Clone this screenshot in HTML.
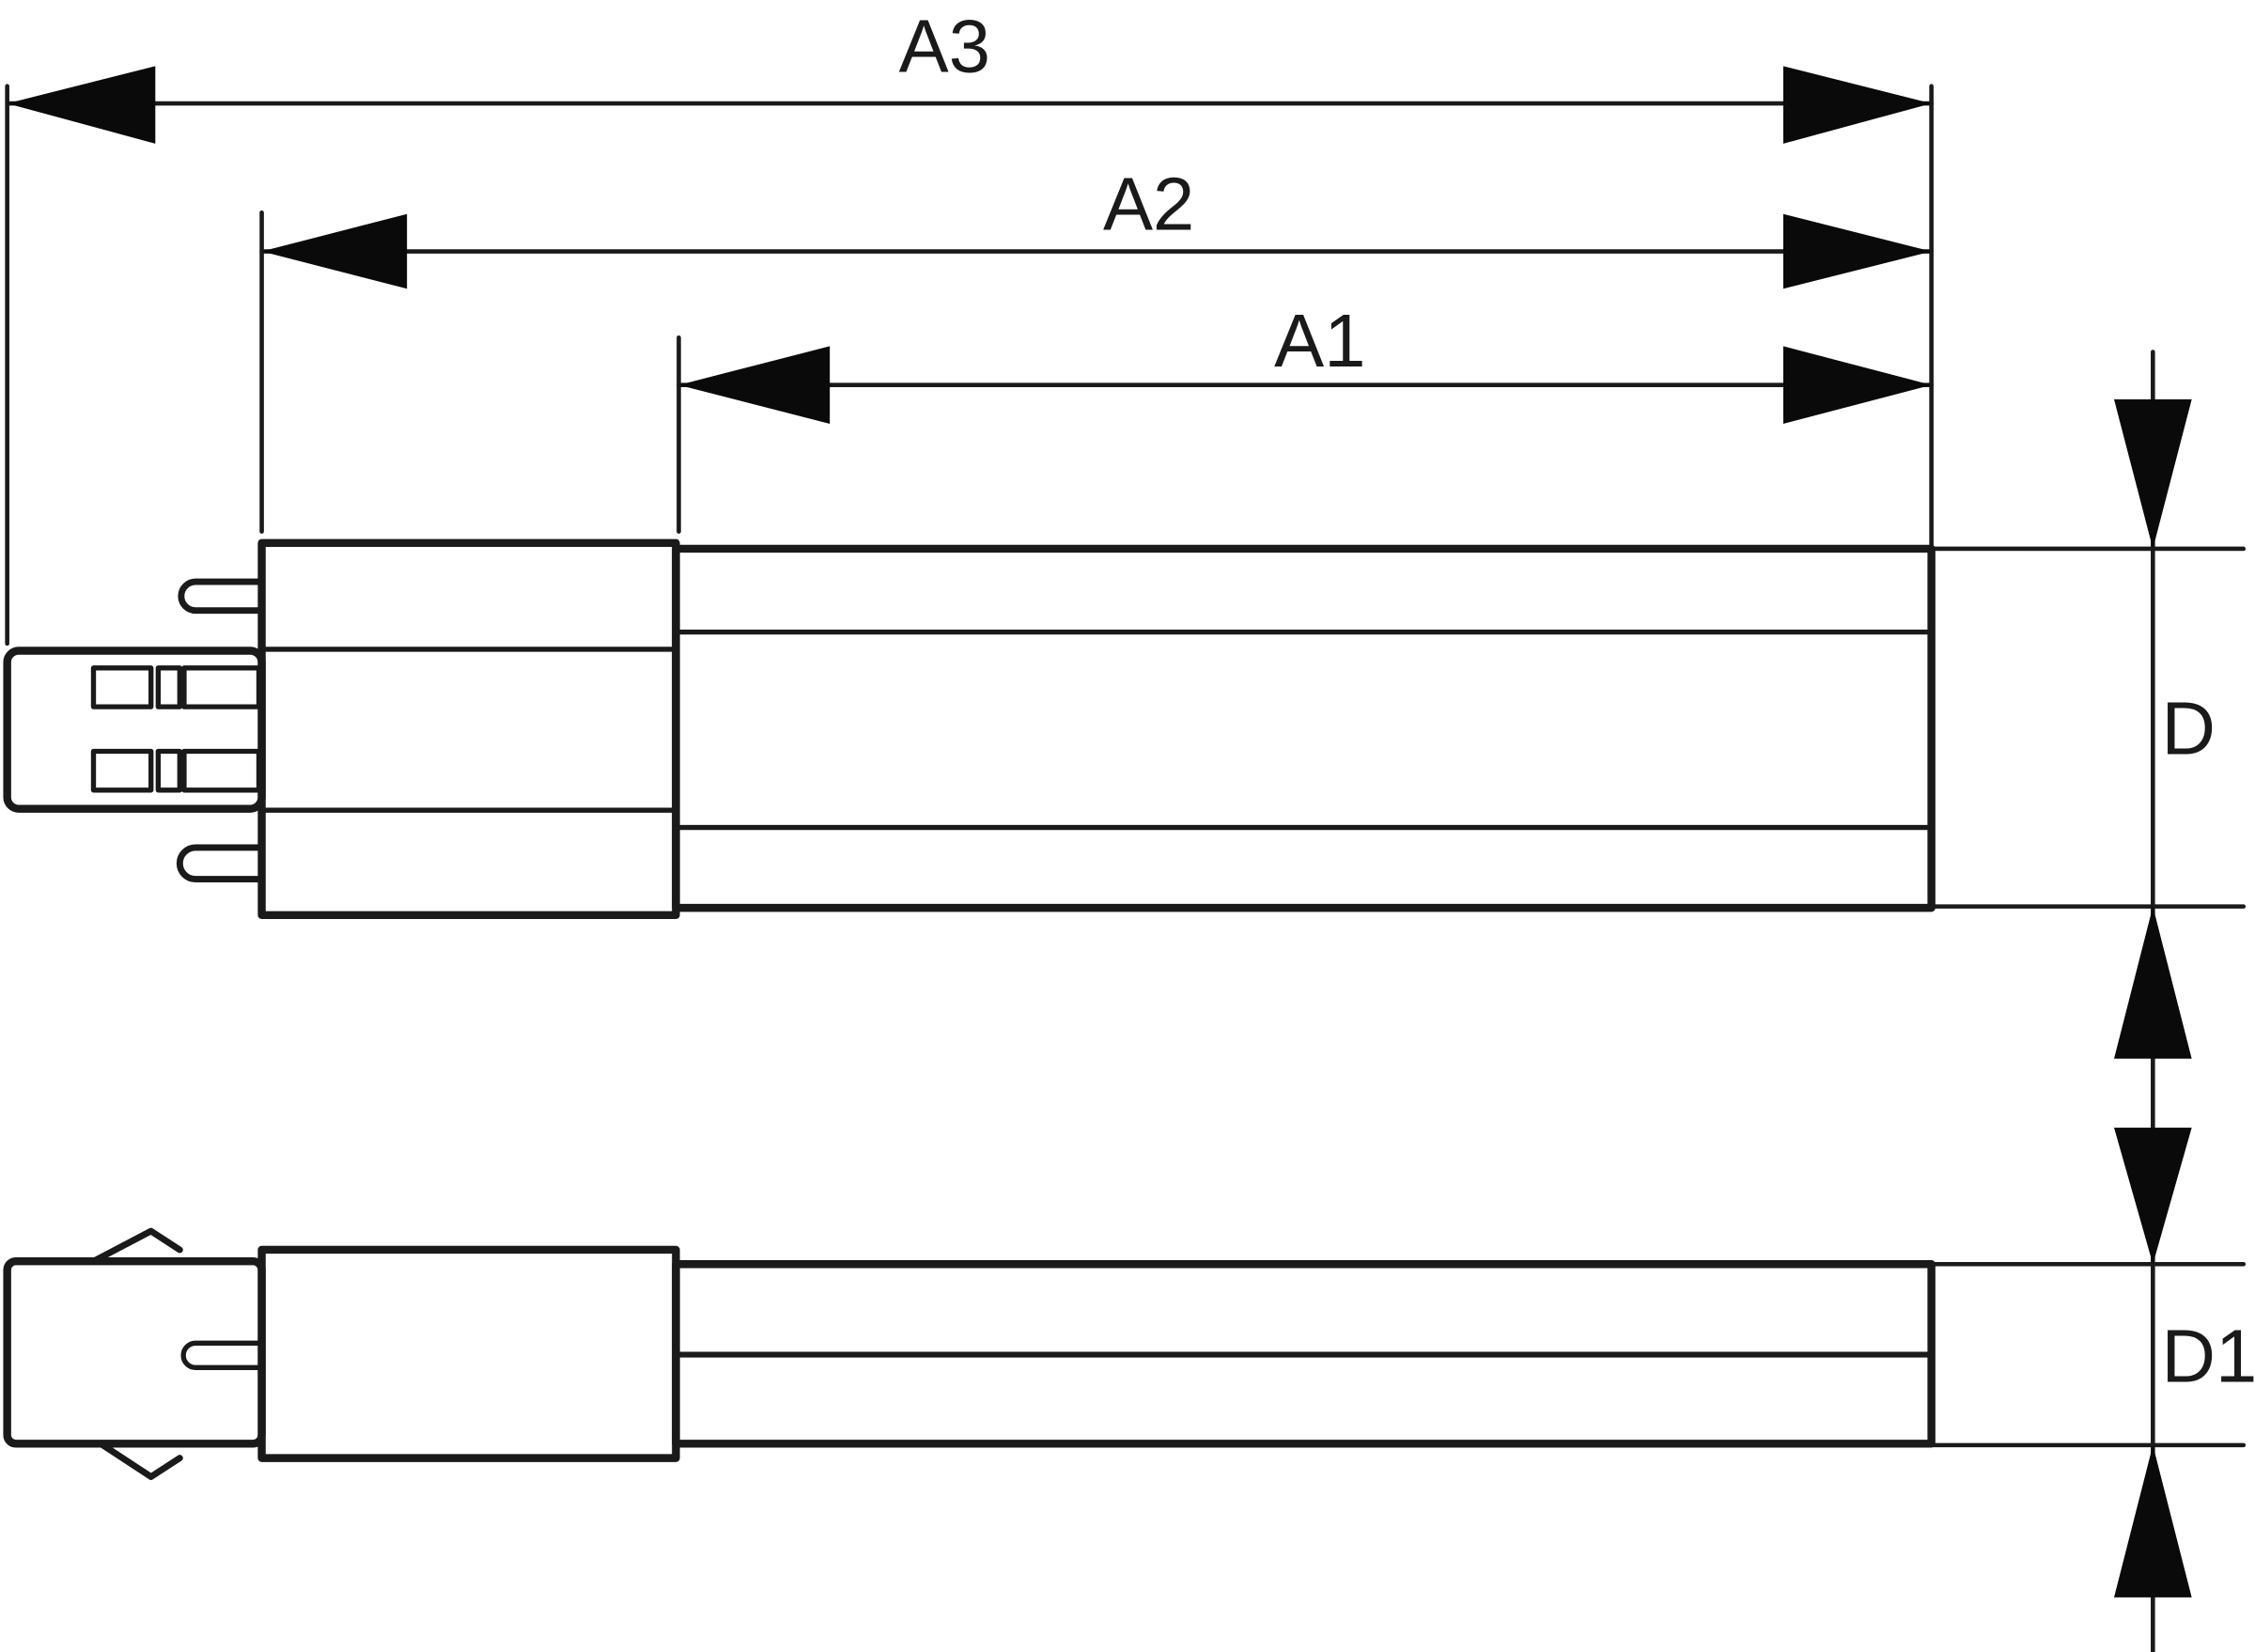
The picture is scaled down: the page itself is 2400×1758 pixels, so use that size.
<!DOCTYPE html>
<html><head><style>html,body{margin:0;padding:0;background:#fff}svg{display:block}</style></head>
<body>
<svg width="2400" height="1758" viewBox="0 0 1568 1150" preserveAspectRatio="none" xmlns="http://www.w3.org/2000/svg">
<g stroke="#1a1a1a" fill="none" stroke-linecap="round" stroke-linejoin="round">
<g stroke-width="3">
<line x1="5" y1="60" x2="5" y2="448"/>
<line x1="1343" y1="60" x2="1343" y2="380"/>
<line x1="182" y1="148" x2="182" y2="370"/>
<line x1="472" y1="235" x2="472" y2="370"/>
<line x1="5" y1="72" x2="1343" y2="72"/>
<line x1="182" y1="175" x2="1343" y2="175"/>
<line x1="472" y1="268" x2="1343" y2="268"/>
<line x1="1497" y1="245" x2="1497" y2="1150"/>
<line x1="1343" y1="382" x2="1560" y2="382"/>
<line x1="1343" y1="631" x2="1560" y2="631"/>
<line x1="1343" y1="880" x2="1560" y2="880"/>
<line x1="1343" y1="1006" x2="1560" y2="1006"/>
</g>
<g stroke-width="5.5">
<rect x="182" y="378" width="288" height="259"/>
<rect x="470" y="382" width="873" height="250"/>
<rect x="5" y="453" width="177" height="110" rx="8"/>
</g>
<g stroke-width="3.5">
<line x1="472" y1="440" x2="1343" y2="440"/>
<line x1="472" y1="576" x2="1343" y2="576"/>
<line x1="182" y1="452" x2="470" y2="452"/>
<line x1="182" y1="564" x2="470" y2="564"/>
<rect x="65" y="465" width="40" height="27"/>
<rect x="110" y="465" width="15" height="27"/>
<rect x="128" y="465" width="52" height="27"/>
<rect x="65" y="523" width="40" height="27"/>
<rect x="110" y="523" width="15" height="27"/>
<rect x="128" y="523" width="52" height="27"/>
</g>
<g stroke-width="4.5">
<path d="M182 405 H136 a10 10 0 0 0 0 20 H182"/>
<path d="M182 590 H136 a10 10 0 0 0 0 22 H182"/>
<rect x="5" y="878" width="177" height="127" rx="6" stroke-width="5.5"/>
<rect x="182" y="870" width="288" height="145" stroke-width="5.5"/>
<rect x="470" y="880" width="873" height="125" stroke-width="5.5"/>
<line x1="472" y1="943" x2="1343" y2="943" stroke-width="4"/>
<path d="M182 935 H136 a8.5 8.5 0 0 0 0 17 H182" stroke-width="3.5"/>
<polyline points="65,878 105,857 125,870"/>
<polyline points="70,1005 105,1028 125,1015"/>
</g>
</g>
<g fill="#0a0a0a">
<polygon points="5,72 108,46 108,100"/>
<polygon points="1343,72 1240,46 1240,100"/>
<polygon points="182,175 283,149 283,201"/>
<polygon points="1343,175 1240,149 1240,201"/>
<polygon points="472,268 577,241 577,295"/>
<polygon points="1343,268 1240,241 1240,295"/>
<polygon points="1497,382 1470,278 1524,278"/>
<polygon points="1497,631 1470,737 1524,737"/>
<polygon points="1497,880 1470,785 1524,785"/>
<polygon points="1497,1006 1470,1112 1524,1112"/>
</g>
<g font-family="Liberation Sans, sans-serif" font-size="52" fill="#1a1a1a">
<text x="625" y="50">A3</text>
<text x="767" y="160">A2</text>
<text x="886" y="255">A1</text>
<text x="1503" y="525">D</text>
<text x="1503" y="962">D1</text>
</g>
</svg>
</body></html>
